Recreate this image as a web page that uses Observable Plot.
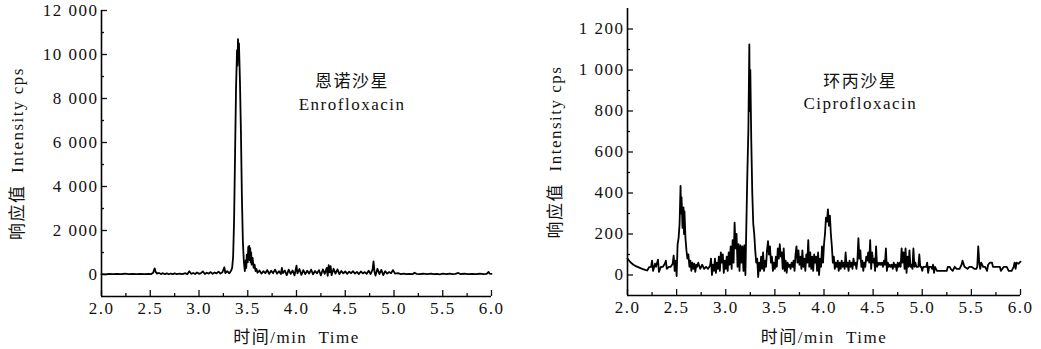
<!DOCTYPE html>
<html><head><meta charset="utf-8">
<script src="https://cdn.jsdelivr.net/npm/d3@7"></script>
<script src="https://cdn.jsdelivr.net/npm/@observablehq/plot@0.6"></script>
<style>
html,body{margin:0;padding:0;background:#fff;}
#wrap{display:flex;width:1041px;height:349px;overflow:hidden;}
#wrap svg{display:block;flex:none;max-width:none;}
#wrap svg, #wrap svg text, #wrap svg tspan{font-family:"Liberation Serif","DejaVu Serif","Noto Sans CJK SC",serif !important;font-size:17px !important;letter-spacing:1.5px;}
</style></head><body><div id="wrap"></div>
<script>
// ---- tick labels / categories ----
const xTicks = [2, 2.5, 3, 3.5, 4, 4.5, 5, 5.5, 6];
const xMinorTicks = [2.25, 2.75, 3.25, 3.75, 4.25, 4.75, 5.25, 5.75];
const enroYTicks = [0, 2000, 4000, 6000, 8000, 10000, 12000];
const enroYMinor = [1000, 3000, 5000, 7000, 9000, 11000];
const ciproYTicks = [0, 200, 400, 600, 800, 1000, 1200];
const ciproYMinor = [100, 300, 500, 700, 900, 1100];
const enroName = ["恩诺沙星", "Enrofloxacin"];
const ciproName = ["环丙沙星", "Ciprofloxacin"];
const xTitle = "时间/min  Time";
const yTitle = "响应值  Intensity cps";

// ---- series: [time (min), intensity (cps)] ----
const enroTrace = [
[2.00,20],[2.04,10],[2.08,30],[2.12,15],[2.16,25],[2.20,20],[2.24,35],[2.28,15],[2.32,25],[2.36,20],
[2.40,30],[2.44,15],[2.48,30],[2.51,20],[2.53,80],[2.545,280],[2.555,120],[2.57,40],[2.59,70],[2.61,20],
[2.63,60],[2.65,15],[2.67,50],[2.69,10],[2.71,45],[2.73,20],[2.75,55],[2.77,15],[2.80,40],[2.83,20],
[2.86,60],[2.88,15],[2.90,150],[2.92,30],[2.94,70],[2.96,20],[2.98,90],[3.00,30],[3.02,60],[3.04,140],
[3.06,20],[3.08,80],[3.10,40],[3.12,110],[3.14,30],[3.16,90],[3.18,50],[3.20,130],[3.22,40],[3.24,100],
[3.26,330],[3.27,60],[3.29,150],[3.31,50],[3.33,180],[3.34,300],[3.35,800],[3.36,2500],[3.37,5500],[3.38,8500],
[3.39,10200],[3.395,9500],[3.40,10700],[3.405,9800],[3.41,10500],[3.42,8800],[3.43,6500],[3.44,3500],[3.45,1500],[3.46,600],
[3.47,150],[3.48,650],[3.485,300],[3.49,900],[3.50,550],[3.505,1250],[3.51,700],[3.515,1300],[3.52,650],[3.525,1200],
[3.53,550],[3.535,1000],[3.54,450],[3.55,750],[3.56,300],[3.57,450],[3.58,150],[3.59,250],[3.60,80],[3.62,180],
[3.64,40],[3.66,150],[3.68,60],[3.70,200],[3.72,30],[3.74,170],[3.76,60],[3.78,220],[3.80,40],[3.82,150],
[3.84,20],[3.85,300],[3.86,60],[3.88,180],[3.90,-30],[3.92,220],[3.94,30],[3.96,180],[3.98,-40],[4.00,400],
[4.01,50],[4.03,250],[4.05,-20],[4.07,200],[4.09,20],[4.11,170],[4.13,40],[4.15,220],[4.17,10],[4.19,160],
[4.21,50],[4.23,200],[4.25,-40],[4.27,230],[4.29,30],[4.31,300],[4.32,-60],[4.33,420],[4.34,100],[4.35,380],
[4.36,-30],[4.38,260],[4.40,40],[4.42,230],[4.44,20],[4.46,160],[4.48,50],[4.50,140],[4.52,30],[4.54,130],
[4.56,60],[4.58,150],[4.60,40],[4.62,120],[4.64,20],[4.66,140],[4.68,50],[4.70,110],[4.72,30],[4.74,170],
[4.76,20],[4.78,220],[4.79,600],[4.80,120],[4.81,-50],[4.83,260],[4.85,20],[4.87,210],[4.89,-30],[4.91,150],
[4.93,40],[4.95,110],[4.97,60],[4.99,200],[5.01,40],[5.04,60],[5.07,20],[5.10,40],[5.13,20],[5.16,30],
[5.19,15],[5.21,80],[5.23,30],[5.26,20],[5.30,35],[5.34,15],[5.38,40],[5.41,20],[5.44,30],[5.47,10],
[5.50,35],[5.54,15],[5.57,45],[5.60,20],[5.63,30],[5.66,70],[5.68,20],[5.72,35],[5.76,15],[5.80,30],
[5.84,20],[5.88,35],[5.92,15],[5.95,30],[5.97,120],[5.98,40],[6.00,30]
];

const ciproTrace = [
[2.00,80],[2.03,62],[2.06,50],[2.09,42],[2.12,36],[2.15,30],[2.18,25],[2.20,22],[2.22,38],[2.24,40],
[2.25,70],[2.26,20],[2.28,55],[2.29,40],[2.31,75],[2.32,15],[2.34,40],[2.36,40],[2.38,55],[2.39,70],
[2.40,30],[2.42,40],[2.44,40],[2.46,55],[2.47,95],[2.48,20],[2.49,70],[2.50,-5],[2.51,150],[2.52,180],
[2.53,250],[2.54,435],[2.545,300],[2.55,380],[2.56,230],[2.57,330],[2.575,200],[2.58,310],[2.59,180],[2.60,120],
[2.61,80],[2.62,100],[2.63,40],[2.64,70],[2.65,20],[2.66,60],[2.67,30],[2.68,55],[2.69,15],[2.70,50],
[2.71,40],[2.72,60],[2.74,30],[2.76,50],[2.78,30],[2.80,40],[2.82,30],[2.84,45],[2.85,80],[2.86,0],
[2.87,50],[2.88,20],[2.89,80],[2.90,10],[2.91,60],[2.92,30],[2.93,90],[2.94,20],[2.95,110],[2.96,60],
[2.97,100],[2.98,10],[2.99,70],[3.00,30],[3.01,90],[3.02,20],[3.03,110],[3.04,50],[3.05,140],[3.06,30],
[3.07,170],[3.08,60],[3.09,255],[3.10,130],[3.11,200],[3.12,40],[3.13,150],[3.14,20],[3.15,145],[3.16,60],
[3.17,140],[3.18,20],[3.19,145],[3.20,0],[3.21,250],[3.22,500],[3.23,700],[3.24,1125],[3.245,800],[3.25,1000],
[3.26,650],[3.27,400],[3.28,250],[3.29,200],[3.30,120],[3.31,60],[3.32,80],[3.33,-10],[3.34,60],[3.35,20],
[3.36,90],[3.37,30],[3.38,110],[3.39,20],[3.40,70],[3.41,40],[3.42,120],[3.43,165],[3.44,100],[3.45,140],
[3.46,60],[3.47,90],[3.48,20],[3.49,60],[3.50,30],[3.51,90],[3.52,40],[3.53,130],[3.54,80],[3.55,150],
[3.56,90],[3.57,110],[3.58,30],[3.59,130],[3.60,20],[3.61,70],[3.62,10],[3.63,60],[3.64,40],[3.65,50],
[3.66,30],[3.67,60],[3.68,40],[3.69,70],[3.70,20],[3.71,100],[3.72,140],[3.73,60],[3.74,120],[3.75,50],
[3.76,90],[3.77,30],[3.78,120],[3.79,40],[3.80,80],[3.81,20],[3.82,100],[3.83,60],[3.84,170],[3.85,40],
[3.86,110],[3.87,30],[3.88,90],[3.89,20],[3.90,100],[3.91,60],[3.92,90],[3.93,20],[3.94,110],[3.95,0],
[3.96,80],[3.97,40],[3.98,140],[3.99,60],[4.00,150],[4.01,200],[4.02,280],[4.03,260],[4.04,320],[4.05,240],
[4.06,290],[4.07,200],[4.08,140],[4.09,60],[4.10,90],[4.11,30],[4.12,60],[4.13,40],[4.14,70],[4.15,20],
[4.16,60],[4.17,30],[4.18,70],[4.19,40],[4.20,60],[4.21,30],[4.22,110],[4.23,40],[4.24,60],[4.25,20],
[4.26,70],[4.27,40],[4.28,60],[4.29,30],[4.30,80],[4.31,50],[4.32,60],[4.33,30],[4.34,70],[4.35,180],
[4.36,80],[4.37,120],[4.38,40],[4.39,70],[4.40,20],[4.41,60],[4.42,40],[4.43,90],[4.44,70],[4.45,110],
[4.46,60],[4.47,170],[4.48,30],[4.49,110],[4.50,60],[4.51,80],[4.52,20],[4.53,140],[4.54,40],[4.55,60],
[4.56,50],[4.57,60],[4.58,50],[4.59,60],[4.60,40],[4.61,70],[4.62,50],[4.63,130],[4.64,20],[4.65,60],
[4.66,40],[4.67,50],[4.68,40],[4.69,50],[4.70,30],[4.71,60],[4.72,40],[4.73,50],[4.74,20],[4.75,60],
[4.76,40],[4.77,60],[4.78,40],[4.79,130],[4.80,60],[4.81,110],[4.82,30],[4.83,130],[4.84,10],[4.85,90],
[4.86,40],[4.87,120],[4.88,40],[4.89,50],[4.90,30],[4.91,130],[4.92,40],[4.93,60],[4.94,40],[4.95,40],
[4.96,40],[4.97,100],[4.98,40],[4.99,40],[5.00,20],[5.01,40],[5.02,40],[5.03,40],[5.04,40],[5.05,60],
[5.06,10],[5.07,40],[5.08,40],[5.09,40],[5.10,30],[5.11,50],[5.12,10],[5.13,40],[5.15,20],[5.20,20],
[5.25,20],[5.26,40],[5.28,40],[5.29,30],[5.31,20],[5.33,40],[5.35,30],[5.38,30],[5.40,50],[5.41,70],
[5.43,40],[5.46,30],[5.48,40],[5.50,40],[5.53,30],[5.55,30],[5.56,40],[5.57,140],[5.58,60],[5.59,30],
[5.60,60],[5.62,40],[5.64,40],[5.66,20],[5.67,50],[5.69,60],[5.71,60],[5.72,40],[5.76,40],[5.79,40],
[5.80,20],[5.83,40],[5.86,40],[5.88,20],[5.91,20],[5.93,40],[5.94,60],[5.95,30],[5.96,60],[5.98,55],
[6.00,65]
];

const spaceFmt = d3.formatLocale({decimal: ".", thousands: " ", grouping: [3], currency: ["", ""]}).format(",");

function panel(o) {
  const data = o.trace.map(([t, v]) => ({t, v}));
  return Plot.plot({
    width: o.width, height: 349,
    marginLeft: o.ml, marginRight: o.mr, marginTop: o.mt, marginBottom: o.mb,
    style: {color: "#111", background: "#fff"},
    x: {domain: [2, 6], axis: null, label: null},
    y: {domain: o.yDomain, axis: null, label: null},
    marks: [
      Plot.axisX(xTicks, {tickSize: -6, tickPadding: 11, tickFormat: d3.format(".1f"), strokeWidth: 1.3, label: null}),
      Plot.axisX(xMinorTicks, {tickSize: -3, tickFormat: () => "", strokeWidth: 1.3, label: null}),
      Plot.axisY(o.yTicks, {tickSize: -6, tickPadding: 9, tickFormat: spaceFmt, strokeWidth: 1.3, label: null}),
      Plot.axisY(o.yMinor, {tickSize: -3, tickFormat: () => "", strokeWidth: 1.3, label: null}),
      Plot.ruleX([2], {strokeWidth: 1.6, stroke: "#000"}),
      Plot.ruleY([o.yDomain[0]], {strokeWidth: 1.6, stroke: "#000"}),
      Plot.line(data, {x: "t", y: "v", stroke: "#000", strokeWidth: 1.8}),
      Plot.text([o.name.join("\n")], {x: o.nameX, y: o.nameY, lineHeight: 1.3, fill: "#111"}),
      Plot.text([xTitle], {frameAnchor: "bottom", dy: o.xdy, lineAnchor: "middle", textAnchor: "middle", fill: "#111"}),
      Plot.text([yTitle], {frameAnchor: "left", dx: o.ydx, rotate: -90, textAnchor: "middle", lineAnchor: "middle", fill: "#111"})
    ]
  });
}

const wrap = document.getElementById("wrap");
wrap.append(panel({
  trace: enroTrace, width: 520, ml: 101, mr: 29, mt: 10, mb: 53,
  yDomain: [-1000, 12000], yTicks: enroYTicks, yMinor: enroYMinor,
  name: enroName, nameX: 4.57, nameY: 8320, xdy: 41, ydx: -84
}));
wrap.append(panel({
  trace: ciproTrace, width: 521, ml: 107, mr: 21, mt: 8, mb: 54,
  yDomain: [-100, 1300], yTicks: ciproYTicks, yMinor: ciproYMinor,
  name: ciproName, nameX: 4.37, nameY: 898, xdy: 42, ydx: -72
}));
</script></body></html>
